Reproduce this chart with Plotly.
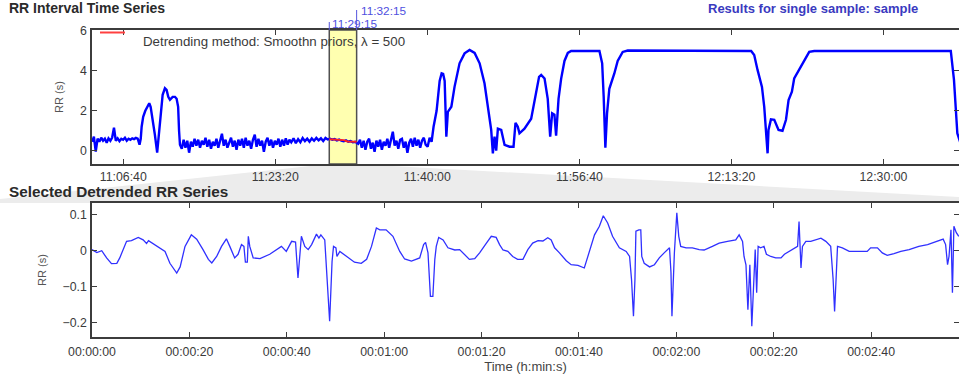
import pandas as pd
import plotly.graph_objects as go

W, H = 959, 376

# ---------------- data: RR interval series (seconds after 11:00:00) ----------------
rr_time_s = [
    195, 207, 219, 231, 243, 255, 267, 279, 291, 303, 315, 327, 339, 351, 363, 375, 387, 399, 411, 423,
    435, 447, 459, 471, 483, 495, 507,
    515, 521, 531, 545, 564, 571, 580, 595, 608, 623, 632, 641, 659, 674, 685, 696, 707, 725, 740, 751, 761, 767, 773,
    785, 797, 809, 821, 833, 845, 857, 869, 881, 893, 905, 917, 929, 941, 953, 965, 977, 989, 1001, 1013,
    1025, 1037, 1049, 1061, 1073, 1085, 1097, 1109, 1121, 1133, 1145, 1157, 1169, 1181, 1193, 1205, 1217, 1229, 1241, 1253,
    1265, 1277, 1289, 1301, 1313, 1325, 1337, 1349, 1361, 1373, 1385, 1397, 1409, 1421, 1433, 1445, 1457, 1469, 1481, 1493,
    1505, 1520, 1535, 1550, 1565, 1580, 1595, 1610, 1625, 1640, 1655, 1670, 1685, 1700, 1715, 1730, 1745,
    1760, 1775, 1790, 1805, 1820, 1835, 1850, 1865, 1880, 1895, 1910, 1925,
    1945, 1957, 1969, 1981, 1993, 2005, 2017, 2029, 2041, 2053, 2065, 2077, 2089, 2101, 2113, 2125, 2137, 2149, 2161, 2173,
    2185, 2197, 2209, 2221, 2233, 2245, 2257, 2269, 2281, 2293, 2305, 2317, 2329, 2341, 2353, 2365, 2377, 2389,
    2402, 2415, 2428,
    2441, 2461, 2470, 2481, 2494, 2504, 2514, 2525, 2535, 2558, 2579, 2612, 2645, 2678, 2711, 2744, 2776, 2798, 2820, 2831,
    2842, 2853, 2864, 2886, 2908, 2941, 2967, 2980, 2995, 3006, 3039, 3083, 3116, 3135, 3149, 3171, 3192, 3208, 3221, 3236,
    3247, 3263, 3280, 3302, 3324, 3346, 3532, 3550, 3560, 3571, 3582, 3597, 3630, 3652, 3685, 3718,
    4530, 4550, 4572, 4601, 4616, 4627, 4638, 4644, 4660, 4682, 4710, 4736, 4759, 4776, 4798, 4813, 4846, 4879, 4912, 4945,
    5843, 5864, 5886, 5910,
]
rr_values = [
    0.45, 0.7, -0.05, 0.6, 0.45, 0.65, 0.5, 0.6, 0.4, 0.62, 0.5, 0.66, 1.15, 0.5, 0.62, 0.48, 0.6, 0.55, 0.65, 0.5,
    0.6, 0.55, 0.62, 0.58, 0.64, 0.6, 0.3,
    0.6, 1.2, 1.7, 2.0, 2.3, 2.38, 2.2, 1.5, 0.8, -0.1, 0.6, 1.5, 2.8, 3.13, 3.05, 2.7, 2.55, 2.7, 2.7, 2.6, 2.2, 1.0, 0.3,
    0.1, 0.55, 0.15, 0.5, -0.1, 0.45, 0.2, 0.6, 0.25, 0.55, 0.15, 0.5, 0.3, 0.65, 0.2, 0.55, 0.1, 0.45, 0.25, 0.6,
    0.15, 0.5, 0.85, 0.25, 0.55, 0.15, 0.45, 0.65, 0.2, 0.5, 0.05, 0.55, 0.25, 0.6, 0.15, 0.65, 0.25, 0.5, 0.1, 0.55,
    0.8, 0.2, 0.6, 0.25, 0.5, -0.05, 0.45, 0.65, 0.25, 0.55, 0.15, 0.5, 0.3, 0.6, 0.2, 0.55, 0.25, 0.62, 0.3, 0.55,
    0.42, 0.62, 0.38, 0.58, 0.42, 0.64, 0.48, 0.6, 0.45, 0.62, 0.5, 0.64, 0.52, 0.62, 0.48, 0.64, 0.56,
    0.6, 0.55, 0.58, 0.52, 0.56, 0.5, 0.47, 0.52, 0.45, 0.48, 0.42, 0.45,
    0.35, 0.55, 0.15, 0.5, 0.05, 0.45, 0.6, 0.1, 0.4, -0.05, 0.5, 0.2, 0.55, 0.05, 0.45, 0.25, 0.6, 0.15, 0.55, 0.95,
    0.25, 0.5, 0.1, 0.55, 0.6, 0.15, 0.45, -0.1, 0.4, 0.6, 0.2, 0.65, 0.25, 0.55, 0.15, 0.5, 0.65, 0.3,
    0.2, 0.65, 0.45,
    1.2, 2.0, 2.7, 3.5, 3.88, 3.85, 3.5, 0.7, 1.95, 2.2, 3.2, 4.38, 4.88, 5.05, 4.9, 4.38, 3.38, 2.2, 1.04, -0.13,
    0.7, 0.0, 1.1, 1.04, 0.29, 0.2, 0.2, 1.4, 1.2, 0.87, 1.1, 1.6, 3.0, 3.7, 3.8, 3.62, 2.6, 0.7, 1.87, 1.8,
    0.75, 2.6, 3.6, 4.5, 4.9, 5.0, 5.0, 4.38, 2.7, 0.15, 1.87, 3.1, 3.87, 4.5, 4.95, 5.02,
    5.0, 4.8, 4.05, 3.2, 2.2, 1.04, -0.13, 1.04, 1.57, 1.55, 1.04, 1.0, 1.55, 2.54, 2.96, 3.62, 4.05, 4.55, 4.95, 5.0,
    5.0, 3.55, 0.87, 0.3,
]

# Smoothness-priors trend inside the selected window
trend_time_s = [1755, 1800, 1850, 1875, 1935]
trend_values = [0.57, 0.56, 0.53, 0.46, 0.45]

# Selected window
sel_start_s, sel_end_s = 1755, 1935
sel_labels = ["11:29:15", "11:32:15"]

top_tick_labels = ["11:06:40", "11:23:20", "11:40:00", "11:56:40", "12:13:20", "12:30:00"]
top_yticks = [0, 2, 4, 6]

# ---------------- data: selected detrended RR series ----------------
det_time = [
    0, 1.0, 2.0, 3.0, 4.0, 5.1, 5.7, 7.1, 8.1, 9.5, 10.5, 11.2, 11.6, 13.3, 15.0, 16.0, 17.0, 17.4, 18.1, 19.1,
    20.4, 21.5, 22.8, 23.9, 24.6, 25.6, 26.6, 27.6, 28.3, 29.3, 30.0, 30.7, 31.2, 31.5, 31.9, 32.1, 32.4, 33.1, 34.5, 36.5,
    38.9, 39.9, 41.0, 41.8, 42.3, 42.7, 43.0, 43.7, 44.4, 45.1, 46.1, 46.6, 47.0, 47.8, 48.5, 48.8, 49.3, 49.6, 50.1, 50.3,
    50.9, 52.2, 53.9, 55.3, 56.4, 57.4, 58.4, 59.1, 60.4, 61.8, 63.2, 64.2, 65.6, 67.3, 68.1, 68.5, 69.0, 69.5, 70.0, 70.4,
    70.7, 71.2, 72.1, 73.1, 74.5, 75.5, 76.5, 77.5, 78.6, 79.6, 81.0, 82.0, 83.0, 83.7, 84.4, 85.4, 86.4, 87.4, 88.5, 89.5,
    90.5, 91.6, 92.6, 93.6, 94.3, 95.0, 96.0, 97.4, 98.4, 99.8, 101.1, 102.2, 103.2, 104.2, 105.0, 105.9, 106.9, 108.3, 109.7, 110.4,
    110.8, 111.2, 111.5, 111.7, 112.3, 112.7, 112.9, 113.4, 114.5, 115.5, 116.5, 117.5, 118.6, 118.9, 119.1, 119.6, 120.1, 120.5, 120.9, 122.0,
    123.3, 124.7, 125.7, 127.4, 128.8, 130.5, 132.2, 132.9, 133.6, 133.9, 134.3, 134.7, 135.1, 135.5, 135.8, 136.2, 136.5, 136.8, 137.3, 138.0,
    138.5, 139.4, 140.4, 141.5, 142.2, 143.2, 144.2, 144.9, 145.2, 145.6, 145.9, 146.6, 147.6, 148.7, 149.7, 150.7, 151.7, 152.2, 152.5, 152.8,
    153.1, 154.1, 155.5, 157.5, 159.2, 159.9, 161.3, 162.3, 163.3, 164.7, 166.1, 167.8, 169.8, 171.6, 173.3, 174.8, 175.3, 175.7, 176.0, 176.4,
    176.7, 177.0, 177.5, 178.0,
]
det_values = [
    0.003, -0.005, 0.0, -0.02, -0.036, -0.035, -0.02, 0.026, 0.028, 0.037, 0.03, 0.02, 0.028, 0.014, -0.002, -0.035, -0.057, -0.062, -0.045, 0.012,
    0.044, 0.032, 0.003, -0.024, -0.034, -0.016, 0.012, 0.033, 0.012, -0.02, -0.01, 0.017, 0.012, -0.032, -0.032, 0.04, 0.012, -0.02, -0.022, -0.01,
    0.012, -0.002, 0.026, 0.024, -0.076, 0.003, 0.04, 0.012, 0.003, 0.017, 0.046, 0.035, 0.044, 0.03, -0.136, -0.196, -0.03, 0.012, 0.008, -0.016,
    -0.002, -0.014, -0.032, -0.035, -0.024, 0.012, 0.063, 0.058, 0.058, 0.04, -0.002, -0.023, -0.029, -0.02, 0.017, 0.023, -0.006, -0.127, -0.127, -0.024,
    0.012, 0.037, 0.03, 0.008, 0.002, 0.003, -0.01, -0.024, -0.022, -0.006, 0.021, 0.04, 0.037, 0.017, 0.002, -0.002, -0.016, -0.024, -0.024, 0.003,
    0.021, 0.028, 0.027, 0.036, 0.03, 0.008, -0.006, -0.028, -0.039, -0.041, -0.048, 0.003, 0.044, 0.068, 0.097, 0.077, 0.04, 0.008, -0.002, -0.016,
    -0.08, -0.182, -0.08, 0.054, 0.058, 0.058, -0.016, -0.035, -0.045, -0.039, -0.02, -0.006, 0.008, -0.06, -0.182, -0.006, 0.105, 0.04, 0.012, 0.008,
    0.008, 0.003, 0.002, 0.012, 0.021, 0.026, 0.03, 0.044, 0.026, -0.016, -0.039, -0.164, -0.039, -0.21, -0.107, 0.003, -0.117, 0.012, 0.008, 0.012,
    -0.01, -0.016, -0.02, -0.02, -0.01, -0.002, 0.008, 0.012, 0.081, -0.048, 0.012, 0.026, 0.026, 0.03, 0.035, 0.026, 0.012, -0.08, -0.169, -0.08,
    0.012, 0.008, -0.002, -0.002, -0.002, 0.008, 0.008, -0.006, -0.013, -0.008, -0.002, 0.003, 0.012, 0.017, 0.026, 0.032, 0.017, -0.039, -0.016, 0.058,
    -0.117, 0.068, 0.05, 0.04,
]
bottom_tick_vals = [0, 20, 40, 60, 80, 100, 120, 140, 160]
bottom_tick_labels = ["00:00:00", "00:00:20", "00:00:40", "00:01:00", "00:01:20",
                      "00:01:40", "00:02:00", "00:02:20", "00:02:40"]
bottom_yticks = [-0.2, -0.1, 0, 0.1]
bottom_ytick_labels = ["\u22120.2", "\u22120.1", "0", "0.1"]

# ---------------- helpers ----------------
base = pd.Timestamp("2000-01-01 11:00:00")
def ts(sec):
    return base + pd.to_timedelta(sec, unit="s")
def clock(s):
    return pd.Timestamp("2000-01-01 " + s)
def px(x):
    return x / W
def py(y):
    return 1 - y / H

FONT = "Liberation Sans, Arial, Helvetica, sans-serif"
TXT = "#3a3a3a"
AX = "#3c3c3c"

fig = go.Figure()
fig.add_trace(go.Scatter(x=[ts(s) for s in rr_time_s], y=rr_values, mode="lines",
                         line=dict(color="#0000ff", width=2.4), xaxis="x", yaxis="y",
                         showlegend=False, hoverinfo="skip"))
fig.add_trace(go.Scatter(x=[ts(s) for s in trend_time_s], y=trend_values, mode="lines",
                         line=dict(color="#ff2020", width=2), xaxis="x", yaxis="y",
                         showlegend=False, hoverinfo="skip"))
fig.add_trace(go.Scatter(x=det_time, y=det_values, mode="lines",
                         line=dict(color="#3030ff", width=1.3), xaxis="x2", yaxis="y2",
                         showlegend=False, hoverinfo="skip"))

axis_common = dict(showline=True, linecolor=AX, linewidth=1.6, mirror="ticks",
                   ticks="inside", ticklen=5, tickcolor=AX, tickwidth=1,
                   showgrid=False, zeroline=False, automargin=False,
                   tickfont=dict(family=FONT, size=12.3, color=TXT))

top_dom_y = [py(164), py(30)]
bot_dom_y = [py(337), py(203)]
x_dom = [px(92), 1.0]

fig.update_layout(
    width=W, height=H,
    margin=dict(l=0, r=0, t=0, b=0, autoexpand=False),
    paper_bgcolor="white", plot_bgcolor="white",
    xaxis=dict(domain=x_dom, anchor="y", type="date",
               range=[ts(194.4), ts(5897)], ticklabelstandoff=0,
               tickvals=[clock(s) for s in top_tick_labels], ticktext=top_tick_labels,
               **axis_common),
    yaxis=dict(domain=top_dom_y, anchor="x", range=[-0.667, 6.05], ticklabelstandoff=1,
               tickvals=top_yticks, ticktext=[str(v) for v in top_yticks],
               title=dict(text="RR (s)", font=dict(family=FONT, size=11, color="#555"), standoff=14),
               **axis_common),
    xaxis2=dict(domain=x_dom, anchor="y2", range=[0, 178.05], ticklabelstandoff=2,
                tickvals=bottom_tick_vals, ticktext=bottom_tick_labels,
                title=dict(text="Time (h:min:s)", font=dict(family=FONT, size=13, color="#444"), standoff=3),
                **axis_common),
    yaxis2=dict(domain=bot_dom_y, anchor="x2", range=[-0.2397, 0.1325], ticklabelstandoff=1,
                tickvals=bottom_yticks, ticktext=bottom_ytick_labels,
                title=dict(text="RR (s)", font=dict(family=FONT, size=11, color="#555"), standoff=14),
                **axis_common),
)

shapes = []
# zoom funnel between panels
shapes.append(dict(type="path", xref="paper", yref="paper", layer="below",
                   path=(f"M {px(329)} {py(164)} L {px(356)} {py(164)} L {px(959)} {py(197)} "
                         f"L {px(959)} {py(203)} L {px(0)} {py(203)} L {px(0)} {py(199)} Z"),
                   fillcolor="#ececec", line=dict(width=0)))
# selected window (yellow)
shapes.append(dict(type="rect", xref="x", yref="y domain", x0=ts(sel_start_s), x1=ts(sel_end_s),
                   y0=0, y1=1, fillcolor="#ffffb0", line=dict(color="#505050", width=1.5),
                   layer="below"))
# selection markers above panel
shapes.append(dict(type="line", xref="x", yref="paper", x0=ts(sel_start_s), x1=ts(sel_start_s),
                   y0=py(30), y1=py(22), line=dict(color="#5555dd", width=1)))
shapes.append(dict(type="line", xref="x", yref="paper", x0=ts(sel_end_s), x1=ts(sel_end_s),
                   y0=py(30), y1=py(10), line=dict(color="#5555dd", width=1)))
# legend sample for trend
shapes.append(dict(type="line", xref="paper", yref="paper", x0=px(100), x1=px(125),
                   y0=py(32.5), y1=py(32.5), line=dict(color="#ff4040", width=2)))
fig.update_layout(shapes=shapes)

ann = [
    dict(text="<b>RR Interval Time Series</b>", xref="paper", yref="paper", x=px(7), y=py(8),
         xanchor="left", yanchor="middle", showarrow=False,
         font=dict(family=FONT, size=14, color="#2a2a2a")),
    dict(text="<b>Results for single sample: sample</b>", xref="paper", yref="paper", x=px(706), y=py(8),
         xanchor="left", yanchor="middle", showarrow=False,
         font=dict(family=FONT, size=13, color="#3a3ac0")),
    dict(text="<b>Selected Detrended RR Series</b>", xref="paper", yref="paper", x=px(7), y=py(192),
         xanchor="left", yanchor="middle", showarrow=False,
         font=dict(family=FONT, size=15.3, color="#2a2a2a")),
    dict(text="Detrending method: Smoothn priors, \u03bb = 500", xref="paper", yref="paper",
         x=px(141), y=py(41.5), xanchor="left", yanchor="middle", showarrow=False,
         font=dict(family=FONT, size=13.3, color="#3a3a3a")),
    dict(text=sel_labels[0], xref="x", yref="paper", x=ts(sel_start_s), y=py(23.5),
         xanchor="left", yanchor="middle", xshift=1, showarrow=False,
         font=dict(family=FONT, size=11.8, color="#5050e0")),
    dict(text=sel_labels[1], xref="x", yref="paper", x=ts(sel_end_s), y=py(10.5),
         xanchor="left", yanchor="middle", xshift=2, showarrow=False,
         font=dict(family=FONT, size=11.8, color="#5050e0")),
]
fig.update_layout(annotations=ann)

fig.write_html("out.html", config={"displayModeBar": False},
               post_script="document.body.style.margin='0';document.body.style.padding='0';"
                           "document.documentElement.style.overflow='hidden';")
